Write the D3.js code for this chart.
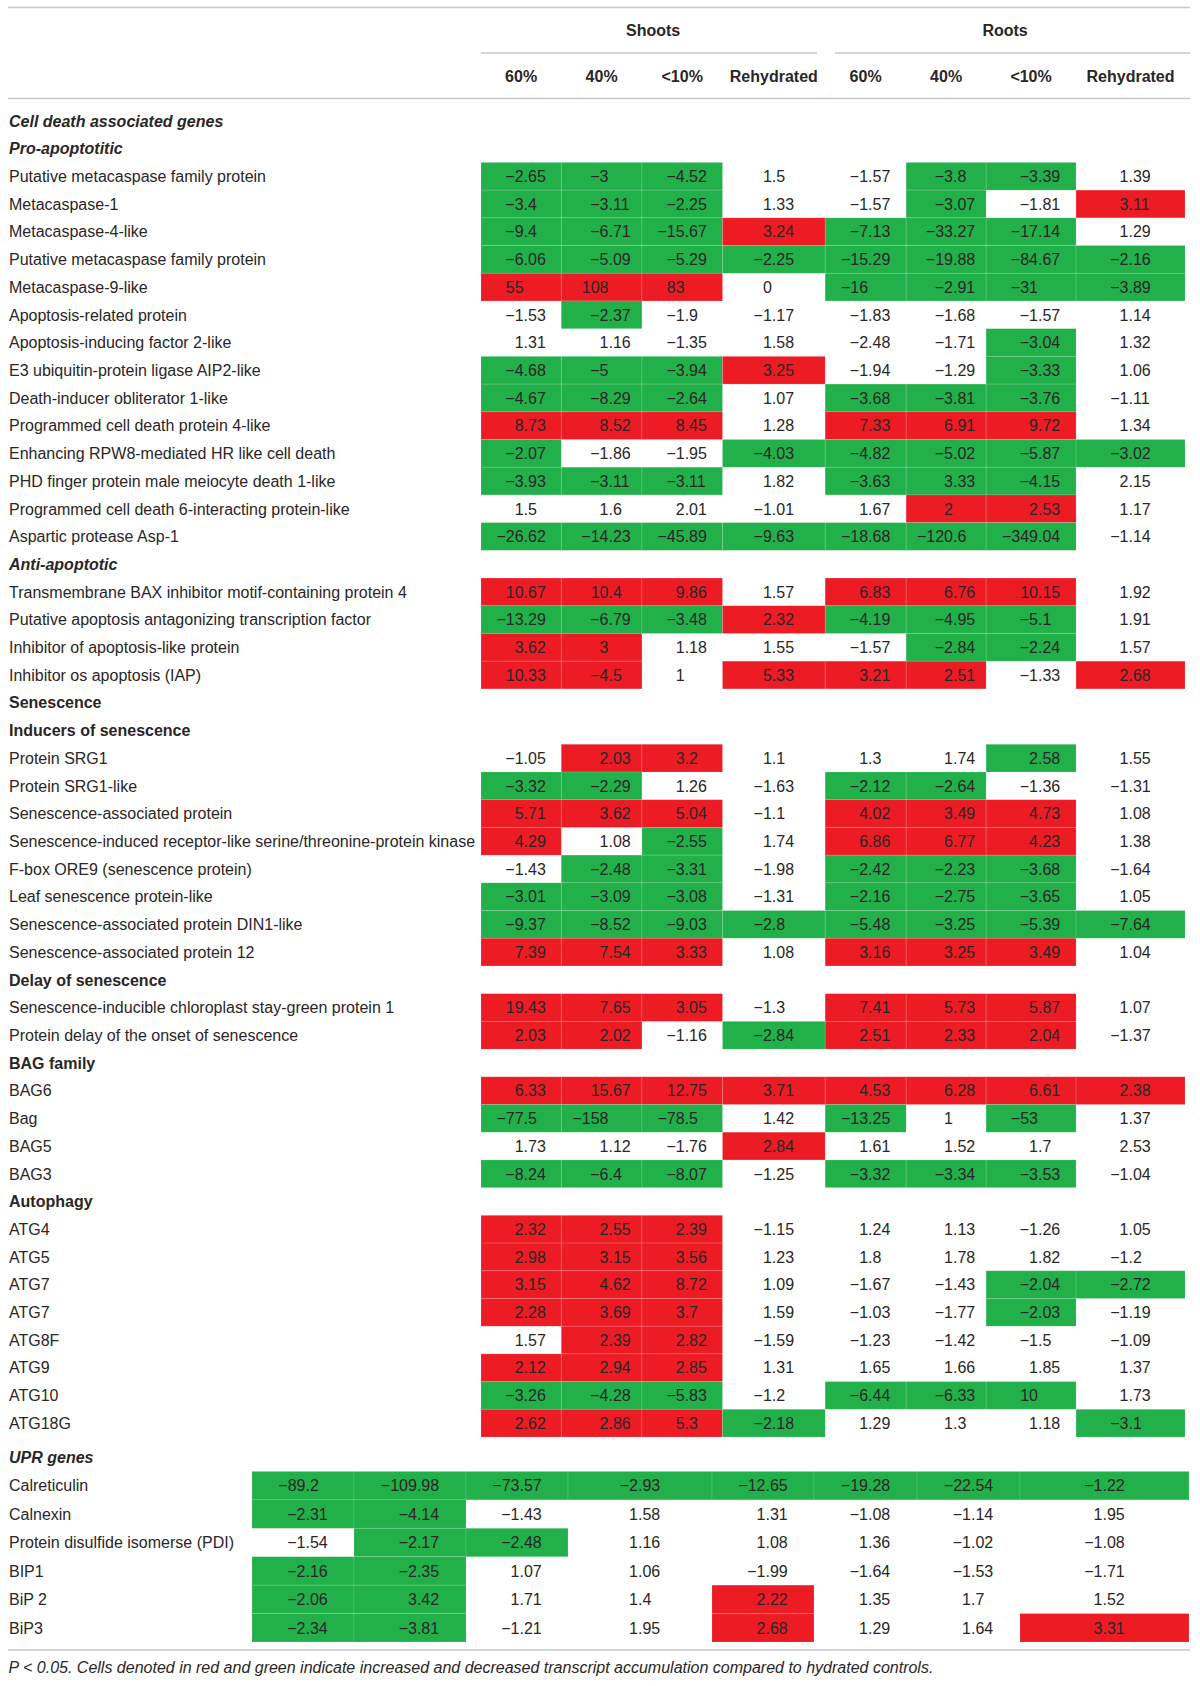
<!DOCTYPE html>
<html>
<head>
<meta charset="utf-8">
<script src="https://cdn.jsdelivr.net/npm/d3@7"></script>
<style>
  body { margin: 0; background: #fff; }
  svg text { font-family: "Liberation Sans", Arial, sans-serif; fill: #2a2627; }
</style>
</head>
<body>
<svg id="chart" width="1200" height="1686"></svg>
<script>
// column headers
const groups = ['Shoots', 'Roots'];
const stages = ['60%', '40%', '<10%', 'Rehydrated'];

// row labels and their style: bi = bold italic, b = bold, '' = plain
const genes = [
  ['Cell death associated genes', 'bi'],
  ['Pro-apoptotitic', 'bi'],
  ['Putative metacaspase family protein', ''],
  ['Metacaspase-1', ''],
  ['Metacaspase-4-like', ''],
  ['Putative metacaspase family protein', ''],
  ['Metacaspase-9-like', ''],
  ['Apoptosis-related protein', ''],
  ['Apoptosis-inducing factor 2-like', ''],
  ['E3 ubiquitin-protein ligase AIP2-like', ''],
  ['Death-inducer obliterator 1-like', ''],
  ['Programmed cell death protein 4-like', ''],
  ['Enhancing RPW8-mediated HR like cell death', ''],
  ['PHD finger protein male meiocyte death 1-like', ''],
  ['Programmed cell death 6-interacting protein-like', ''],
  ['Aspartic protease Asp-1', ''],
  ['Anti-apoptotic', 'bi'],
  ['Transmembrane BAX inhibitor motif-containing protein 4', ''],
  ['Putative apoptosis antagonizing transcription factor', ''],
  ['Inhibitor of apoptosis-like protein', ''],
  ['Inhibitor os apoptosis (IAP)', ''],
  ['Senescence', 'b'],
  ['Inducers of senescence', 'b'],
  ['Protein SRG1', ''],
  ['Protein SRG1-like', ''],
  ['Senescence-associated protein', ''],
  ['Senescence-induced receptor-like serine/threonine-protein kinase', ''],
  ['F-box ORE9 (senescence protein)', ''],
  ['Leaf senescence protein-like', ''],
  ['Senescence-associated protein DIN1-like', ''],
  ['Senescence-associated protein 12', ''],
  ['Delay of senescence', 'b'],
  ['Senescence-inducible chloroplast stay-green protein 1', ''],
  ['Protein delay of the onset of senescence', ''],
  ['BAG family', 'b'],
  ['BAG6', ''],
  ['Bag', ''],
  ['BAG5', ''],
  ['BAG3', ''],
  ['Autophagy', 'b'],
  ['ATG4', ''],
  ['ATG5', ''],
  ['ATG7', ''],
  ['ATG7', ''],
  ['ATG8F', ''],
  ['ATG9', ''],
  ['ATG10', ''],
  ['ATG18G', '']
];

// fold changes: shoots 60/40/<10/rehydrated, roots 60/40/<10/rehydrated
const values = [
  null, null,
  [-2.65, -3, -4.52, 1.5, -1.57, -3.8, -3.39, 1.39],
  [-3.4, -3.11, -2.25, 1.33, -1.57, -3.07, -1.81, 3.11],
  [-9.4, -6.71, -15.67, 3.24, -7.13, -33.27, -17.14, 1.29],
  [-6.06, -5.09, -5.29, -2.25, -15.29, -19.88, -84.67, -2.16],
  [55, 108, 83, 0, -16, -2.91, -31, -3.89],
  [-1.53, -2.37, -1.9, -1.17, -1.83, -1.68, -1.57, 1.14],
  [1.31, 1.16, -1.35, 1.58, -2.48, -1.71, -3.04, 1.32],
  [-4.68, -5, -3.94, 3.25, -1.94, -1.29, -3.33, 1.06],
  [-4.67, -8.29, -2.64, 1.07, -3.68, -3.81, -3.76, -1.11],
  [8.73, 8.52, 8.45, 1.28, 7.33, 6.91, 9.72, 1.34],
  [-2.07, -1.86, -1.95, -4.03, -4.82, -5.02, -5.87, -3.02],
  [-3.93, -3.11, -3.11, 1.82, -3.63, 3.33, -4.15, 2.15],
  [1.5, 1.6, 2.01, -1.01, 1.67, 2, 2.53, 1.17],
  [-26.62, -14.23, -45.89, -9.63, -18.68, -120.6, -349.04, -1.14],
  null,
  [10.67, 10.4, 9.86, 1.57, 6.83, 6.76, 10.15, 1.92],
  [-13.29, -6.79, -3.48, 2.32, -4.19, -4.95, -5.1, 1.91],
  [3.62, 3, 1.18, 1.55, -1.57, -2.84, -2.24, 1.57],
  [10.33, -4.5, 1, 5.33, 3.21, 2.51, -1.33, 2.68],
  null, null,
  [-1.05, 2.03, 3.2, 1.1, 1.3, 1.74, 2.58, 1.55],
  [-3.32, -2.29, 1.26, -1.63, -2.12, -2.64, -1.36, -1.31],
  [5.71, 3.62, 5.04, -1.1, 4.02, 3.49, 4.73, 1.08],
  [4.29, 1.08, -2.55, 1.74, 6.86, 6.77, 4.23, 1.38],
  [-1.43, -2.48, -3.31, -1.98, -2.42, -2.23, -3.68, -1.64],
  [-3.01, -3.09, -3.08, -1.31, -2.16, -2.75, -3.65, 1.05],
  [-9.37, -8.52, -9.03, -2.8, -5.48, -3.25, -5.39, -7.64],
  [7.39, 7.54, 3.33, 1.08, 3.16, 3.25, 3.49, 1.04],
  null,
  [19.43, 7.65, 3.05, -1.3, 7.41, 5.73, 5.87, 1.07],
  [2.03, 2.02, -1.16, -2.84, 2.51, 2.33, 2.04, -1.37],
  null,
  [6.33, 15.67, 12.75, 3.71, 4.53, 6.28, 6.61, 2.38],
  [-77.5, -158, -78.5, 1.42, -13.25, 1, -53, 1.37],
  [1.73, 1.12, -1.76, 2.84, 1.61, 1.52, 1.7, 2.53],
  [-8.24, -6.4, -8.07, -1.25, -3.32, -3.34, -3.53, -1.04],
  null,
  [2.32, 2.55, 2.39, -1.15, 1.24, 1.13, -1.26, 1.05],
  [2.98, 3.15, 3.56, 1.23, 1.8, 1.78, 1.82, -1.2],
  [3.15, 4.62, 8.72, 1.09, -1.67, -1.43, -2.04, -2.72],
  [2.28, 3.69, 3.7, 1.59, -1.03, -1.77, -2.03, -1.19],
  [1.57, 2.39, 2.82, -1.59, -1.23, -1.42, -1.5, -1.09],
  [2.12, 2.94, 2.85, 1.31, 1.65, 1.66, 1.85, 1.37],
  [-3.26, -4.28, -5.83, -1.2, -6.44, -6.33, 10, 1.73],
  [2.62, 2.86, 5.3, -2.18, 1.29, 1.3, 1.18, -3.1]
];

// significance: r = increased, g = decreased, n = not significant
const marks = [
  null, null,
  'gggnnggn', 'gggnngnr', 'gggrgggn', 'gggggggg', 'rrrngggg', 'ngnnnnnn',
  'nnnnnngn', 'gggrnngn', 'gggngggn', 'rrrnrrrn', 'gnnggggg', 'gggngggn',
  'nnnnnrrn', 'gggggggn',
  null,
  'rrrnrrrn', 'gggrgggn', 'rrnnnggn', 'rrnrrrnr',
  null, null,
  'nrrnnngn', 'ggnnggnn', 'rrrnrrrn', 'rngnrrrn', 'nggngggn', 'gggngggn',
  'gggggggg', 'rrrnrrrn',
  null,
  'rrrnrrrn', 'rrngrrrn',
  null,
  'rrrrrrrr', 'gggngngn', 'nnnrnnnn', 'gggngggn',
  null,
  'rrrnnnnn', 'rrrnnnnn', 'rrrnnngg', 'rrrnnngn', 'nrrnnnnn', 'rrrnnnnn',
  'gggngggn', 'rrrgnnng'
];

// UPR genes block
const uprGenes = ['Calreticulin', 'Calnexin', 'Protein disulfide isomerse (PDI)', 'BIP1', 'BiP 2', 'BiP3'];
const uprValues = [
  [-89.2, -109.98, -73.57, -2.93, -12.65, -19.28, -22.54, -1.22],
  [-2.31, -4.14, -1.43, 1.58, 1.31, -1.08, -1.14, 1.95],
  [-1.54, -2.17, -2.48, 1.16, 1.08, 1.36, -1.02, -1.08],
  [-2.16, -2.35, 1.07, 1.06, -1.99, -1.64, -1.53, -1.71],
  [-2.06, 3.42, 1.71, 1.4, 2.22, 1.35, 1.7, 1.52],
  [-2.34, -3.81, -1.21, 1.95, 2.68, 1.29, 1.64, 3.31]
];
const uprMarks = ['gggggggg', 'ggnnnnnn', 'nggnnnnn', 'ggnnnnnn', 'ggnnrnnn', 'ggnnrnnr'];

const footnote = 'P < 0.05. Cells denoted in red and green indicate increased and decreased transcript accumulation compared to hydrated controls.';

const fill = { r: '#ed1c24', g: '#22b04b' };
const fontSize = 16;

const svg = d3.select('#chart');

const probe = svg.append('text').attr('font-size', fontSize).attr('visibility', 'hidden');
const textWidth = s => probe.text(s).node().getComputedTextLength();
const parts = v => {
  const s = String(v).replace('-', '\u2212');
  const k = s.indexOf('.');
  return k < 0 ? [s, ''] : [s.slice(0, k), s.slice(k)];
};

// draws one block of coloured cells with decimal-aligned numbers
function drawBlock(rowsVals, rowsMarks, colWidths, xRange, y) {
  const edges = [0, ...d3.cumsum(colWidths)];
  const x = d3.scaleLinear().domain([0, d3.sum(colWidths)]).range(xRange);
  const rows = rowsVals.map((r, i) => ({ r, i })).filter(d => d.r);

  // decimal point position per column: widest entry centred
  const decimalX = colWidths.map((w, j) => {
    const p = rows.map(d => parts(d.r[j]));
    const maxInt = d3.max(p, q => textWidth(q[0]));
    const maxFrac = d3.max(p, q => textWidth(q[1]));
    const centre = (x(edges[j]) + x(edges[j + 1])) / 2;
    return centre - (maxInt + maxFrac) / 2 + maxInt;
  });

  const cells = rows.flatMap(d => d.r.map((v, j) => ({ v, j, i: d.i, m: rowsMarks[d.i][j] })));
  const g = svg.append('g');

  g.selectAll('rect')
    .data(cells.filter(c => c.m !== 'n'))
    .enter()
    .append('rect')
    .attr('x', c => x(edges[c.j]))
    .attr('y', c => y(c.i))
    .attr('width', c => x(edges[c.j + 1]) - x(edges[c.j]))
    .attr('height', y.bandwidth())
    .attr('fill', c => fill[c.m])
    .attr('stroke', 'rgba(255,255,255,0.16)')
    .attr('stroke-width', 0.8);

  g.selectAll('text')
    .data(cells)
    .enter()
    .append('text')
    .attr('font-size', fontSize)
    .attr('x', c => decimalX[c.j] - textWidth(parts(c.v)[0]))
    .attr('y', c => y(c.i) + y.bandwidth() / 2)
    .attr('dy', '0.36em')
    .text(c => parts(c.v).join(''));

  return { x, edges };
}

function drawLabels(labels, styles, y) {
  svg.append('g')
    .selectAll('text')
    .data(labels)
    .enter()
    .append('text')
    .attr('x', 9)
    .attr('y', (d, i) => y(i) + y.bandwidth() / 2)
    .attr('dy', '0.36em')
    .attr('font-size', fontSize)
    .attr('font-weight', (d, i) => styles[i].includes('b') ? 'bold' : null)
    .attr('font-style', (d, i) => styles[i].includes('i') ? 'italic' : null)
    .text(d => d);
}

// main table
const yMain = d3.scaleBand().domain(d3.range(genes.length)).range([107, 1437]);
const main = drawBlock(values, marks, [80.3, 80.7, 80.6, 102.7, 81, 80, 90, 109], [481, 1185], yMain);
drawLabels(genes.map(d => d[0]), genes.map(d => d[1]), yMain);

// UPR table (first row holds the section title)
const yUpr = d3.scaleBand().domain(d3.range(uprGenes.length + 1)).range([1443, 1642]);
drawBlock([null, ...uprValues], [null, ...uprMarks], [102, 112, 102, 144, 102, 103, 103, 169], [252, 1189], yUpr);
drawLabels(['UPR genes', ...uprGenes], ['bi', ...uprGenes.map(() => '')], yUpr);

// headers
const head = svg.append('g').attr('font-size', fontSize).attr('font-weight', 'bold');
const colLabels = groups.flatMap(() => stages);
head.selectAll('text.stage')
  .data(colLabels)
  .enter()
  .append('text')
  .attr('class', 'stage')
  .attr('text-anchor', 'middle')
  .attr('x', (d, j) => (main.x(main.edges[j]) + main.x(main.edges[j + 1])) / 2)
  .attr('y', 76.5)
  .attr('dy', '0.36em')
  .text(d => d);
head.selectAll('text.group')
  .data(groups)
  .enter()
  .append('text')
  .attr('class', 'group')
  .attr('text-anchor', 'middle')
  .attr('x', (d, k) => (main.x(main.edges[k * 4]) + main.x(main.edges[k * 4 + 4])) / 2)
  .attr('y', 30)
  .attr('dy', '0.36em')
  .text(d => d);

// rules
const rules = [
  [8, 1190, 7.5], [8, 1190, 98.5], [8, 1190, 1650],
  [481, 817, 53], [835, 1190, 53]
];
svg.append('g')
  .selectAll('line')
  .data(rules)
  .enter()
  .append('line')
  .attr('x1', d => d[0])
  .attr('x2', d => d[1])
  .attr('y1', d => d[2])
  .attr('y2', d => d[2])
  .attr('stroke', '#c8c8c8')
  .attr('stroke-width', 1.6);

svg.append('text')
  .attr('x', 8.5)
  .attr('y', 1667)
  .attr('dy', '0.36em')
  .attr('font-size', fontSize)
  .attr('font-style', 'italic')
  .text(footnote);

probe.remove();
</script>
</body>
</html>
